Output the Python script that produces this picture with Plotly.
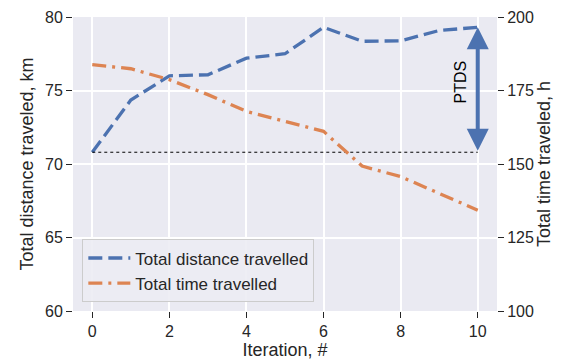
import plotly.graph_objects as go

iteration = [0, 1, 2, 3, 4, 5, 6, 7, 8, 9, 10]
total_distance_km = [70.8, 74.35, 76.0, 76.07, 77.2, 77.5, 79.3, 78.35, 78.38, 79.08, 79.3]
total_time_h = [183.8, 182.4, 178.7, 173.6, 167.9, 164.4, 161.1, 149.3, 145.7, 140.0, 134.3]

x_ticks = [0, 2, 4, 6, 8, 10]
y_left_ticks = [60, 65, 70, 75, 80]
y_right_ticks = [100, 125, 150, 175, 200]

name_dist = "Total distance travelled"
name_time = "Total time travelled"
arrow_label = "PTDS"

BLUE = "#4C72B0"
ORANGE = "#DD8452"
FONT = "Liberation Sans, Arial, sans-serif"
TXT = "#262626"

fig = go.Figure()

fig.add_trace(go.Scatter(
    x=iteration, y=total_distance_km, name=name_dist, mode="lines",
    line=dict(color=BLUE, width=3.3, dash="14px,6px"), yaxis="y"))
fig.add_trace(go.Scatter(
    x=iteration, y=total_time_h, name=name_time, mode="lines",
    line=dict(color=ORANGE, width=3.3, dash="14px,6px,3px,6px"), yaxis="y2"))
# dotted reference line at initial distance
fig.add_trace(go.Scatter(
    x=[iteration[0], iteration[-1]], y=[total_distance_km[0], total_distance_km[0]],
    mode="lines", line=dict(color="black", width=1, dash="dot"),
    showlegend=False, yaxis="y", hoverinfo="skip"))

# double-headed arrow
fig.add_annotation(
    x=iteration[-1], y=total_distance_km[-1],
    ax=iteration[-1], ay=total_distance_km[0],
    xref="x", yref="y", axref="x", ayref="y",
    showarrow=True, arrowhead=2, startarrowhead=2, arrowside="end+start",
    arrowwidth=4, arrowsize=1.1, startarrowsize=1.1, arrowcolor=BLUE,
    standoff=0, startstandoff=0, text="")
fig.add_annotation(
    x=iteration[-1], y=(total_distance_km[-1] + total_distance_km[0]) / 2 + 0.55,
    xref="x", yref="y", showarrow=False, text=arrow_label, textangle=-90,
    xshift=-17, font=dict(family=FONT, size=16, color="black"))

axis_common = dict(
    ticks="outside", ticklen=6, tickwidth=1.3, tickcolor=TXT,
    tickfont=dict(family=FONT, size=16, color=TXT),
    zeroline=False, showline=False, automargin=False)

TITLE_FONT = dict(family=FONT, size=18, color=TXT)

fig.update_layout(
    width=565, height=363,
    margin=dict(l=73, r=68, t=17, b=52),
    paper_bgcolor="white", plot_bgcolor="#EAEAF2",
    font=dict(family=FONT, color=TXT),
    xaxis=dict(range=[-0.5, 10.5], tickvals=x_ticks, showgrid=True,
               gridcolor="white", gridwidth=1.5,
               title=dict(text="Iteration, #", font=TITLE_FONT, standoff=2),
               **axis_common),
    yaxis=dict(range=[60, 80], tickvals=y_left_ticks, showgrid=True,
               gridcolor="white", gridwidth=1.5,
               title=dict(text="Total distance traveled, km", font=TITLE_FONT, standoff=6),
               **axis_common),
    yaxis2=dict(range=[100, 200], tickvals=y_right_ticks, overlaying="y", side="right",
                showgrid=False,
                title=dict(text="Total time traveled, h", font=TITLE_FONT, standoff=4),
                **axis_common),
    legend=dict(x=0.022, y=0.029, xanchor="left", yanchor="bottom",
                bgcolor="rgba(236,236,243,0.9)", bordercolor="#CCCCCC", borderwidth=1,
                font=dict(family=FONT, size=17, color=TXT), tracegroupgap=0,
                itemwidth=42),
    showlegend=True,
)

fig.write_html("out.html", config={"displayModeBar": False},
               post_script="document.body.style.margin='0';")
